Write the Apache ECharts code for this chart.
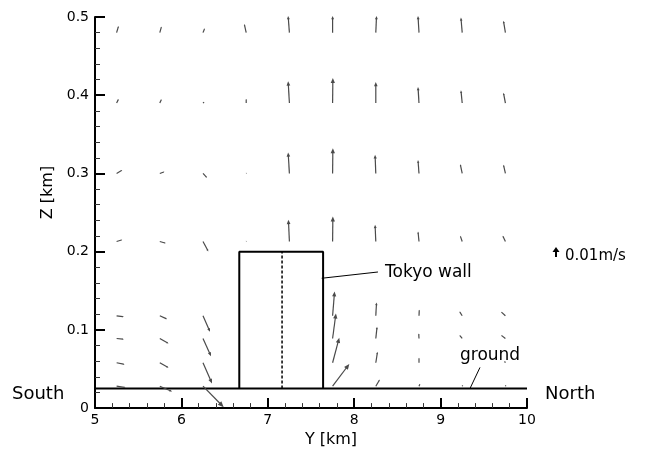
<!DOCTYPE html>
<html>
<head>
<meta charset="utf-8">
<script src="https://cdn.jsdelivr.net/npm/echarts@6/dist/echarts.min.js"></script>
<style>html,body{margin:0;padding:0;background:#fff}#c{width:646px;height:453px}</style>
</head>
<body>
<div id="c"></div>
<script>
// ---- data ----
const xTicks = [5, 6, 7, 8, 9, 10];           // Y [km]
const zTicks = [0, 0.1, 0.2, 0.3, 0.4, 0.5];  // Z [km]
// vector grid, upper part (all columns)
const colsY = [5.25, 5.75, 6.25, 6.75, 7.25, 7.75, 8.25, 8.75, 9.25, 9.75];
const upperRowsZ = [0.48, 0.39, 0.30, 0.213];
// horizontal (v) and vertical (w) velocity, mm/s
const uUpper = [
  [2.2, 1.9, 1.9, -2.2, -1.4, 0.0, 0.8, -1.1, -1.4, -2.2],
  [2.2, 1.9, 1.4, 0.0, -1.4, 0.3, 0.0, -1.1, -1.4, -2.2],
  [6.3, 5.2, 4.4, 0.5, -1.4, 0.3, -0.8, -1.1, -2.2, -2.2],
  [6.3, 6.7, 5.9, 0.3, -1.1, 0.3, -0.8, -1.1, -2.2, -3.0]
];
const wUpper = [
  [7.4, 6.7, 4.8, 9.7, 18.6, 18.6, 18.6, 18.6, 16.7, 13.3],
  [4.4, 4.1, 1.1, 4.5, 24.1, 27.8, 23.3, 17.8, 14.1, 11.4],
  [3.7, 1.9, -4.8, 0.5, 23.3, 28.1, 20.8, 14.8, 10.3, 9.7],
  [1.9, -1.9, -11.1, 0.3, 24.1, 27.8, 18.6, 11.1, 6.3, 6.3]
];
// lower part (columns over the wall are empty)
const lowerColsY = [5.25, 5.75, 6.25, 7.75, 8.25, 8.75, 9.25, 9.75];
const lowerRowsZ = [0.118, 0.089, 0.058, 0.028];
const uLower = [
  [8.1, 8.1, 7.8, 2.2, 0.8, 0.3, -3.0, -4.8],
  [8.1, 9.7, 8.9, 3.7, 1.4, -0.3, -3.0, -4.8],
  [8.9, 9.7, 10.0, 7.4, 1.9, 0.0, -0.6, -1.1],
  [10.0, 13.7, 23.0, 18.6, 4.4, 1.1, 0.6, 0.6]
];
const wLower = [
  [-1.1, -3.7, -17.8, 27.0, 14.8, 6.7, 4.8, 4.4],
  [-0.8, -5.6, -19.7, 27.8, 13.0, 5.6, 3.7, 3.7],
  [-1.9, -5.6, -23.0, 27.8, 12.2, 5.6, 1.1, 1.7],
  [-1.4, -5.9, -23.3, 24.8, 7.4, 2.6, 1.1, 1.1]
];
const refSpeed = 10; // mm/s  (0.01 m/s)
// structures
const groundZ = 0.025;
const wallY = [6.67, 7.64];
const wallTopZ = 0.2;
const wallMidY = 7.165;

// ---- build ----
const K = 0.9; // px per mm/s
const vecData = [];
upperRowsZ.forEach((z, i) => colsY.forEach((y, j) => vecData.push([y, z, uUpper[i][j], wUpper[i][j]])));
lowerRowsZ.forEach((z, i) => lowerColsY.forEach((y, j) => vecData.push([y, z, uLower[i][j], wLower[i][j]])));

function arrowShapes(x0, y0, dx, dy, color, lw, hlF, hwF) {
  const len = Math.hypot(dx, dy);
  if (len < 0.3) return [];
  const ex = x0 + dx, ey = y0 + dy;
  const ux = dx / len, uy = dy / len;
  const hl = hlF * len, hw = hwF * len;
  const bx = ex - ux * hl, by = ey - uy * hl;
  return [
    { type: 'line', shape: { x1: x0, y1: y0, x2: bx + ux * hl * 0.3, y2: by + uy * hl * 0.3 }, style: { stroke: color, lineWidth: lw } },
    { type: 'polygon', shape: { points: [[ex, ey], [bx - uy * hw, by + ux * hw], [bx + uy * hw, by - ux * hw]] }, style: { fill: color } }
  ];
}

const font = 'DejaVu Sans';
const chart = echarts.init(document.getElementById('c'), null, { renderer: 'canvas' });
const blackLine = (data, w, type) => ({
  type: 'line', data: data, showSymbol: false, symbol: 'none', silent: true, animation: false,
  lineStyle: { color: '#000', width: w, type: type || 'solid' }, z: 3
});

const legX = 556, legY = 257, legLen = refSpeed * K;
chart.setOption({
  animation: false,
  grid: { left: 95, right: 119, top: 17, bottom: 39 },
  xAxis: {
    type: 'value', min: xTicks[0], max: xTicks[xTicks.length - 1], interval: 1,
    name: 'Y [km]', nameLocation: 'middle', nameGap: 19,
    nameTextStyle: { fontFamily: font, fontSize: 16, color: '#000', padding: [0, 0, 0, 40] },
    axisLine: { show: true, onZero: false, lineStyle: { color: '#000', width: 2 } },
    axisTick: { show: true, inside: true, length: 10, lineStyle: { color: '#000', width: 2 } },
    minorTick: { show: true, splitNumber: 5, length: 5, lineStyle: { color: '#333', width: 1 } },
    axisLabel: { margin: 5, fontFamily: font, fontSize: 14, color: '#000' },
    splitLine: { show: false }
  },
  yAxis: {
    type: 'value', min: zTicks[0], max: zTicks[zTicks.length - 1], interval: 0.1,
    name: 'Z [km]', nameLocation: 'middle', nameGap: 29, nameRotate: 90,
    nameTextStyle: { fontFamily: font, fontSize: 16, color: '#000', padding: [0, 0, 0, 40] },
    axisLine: { show: true, onZero: false, lineStyle: { color: '#000', width: 2 } },
    axisTick: { show: true, inside: true, length: 10, lineStyle: { color: '#000', width: 2 } },
    minorTick: { show: true, splitNumber: 5, length: 5, lineStyle: { color: '#333', width: 1 } },
    axisLabel: { margin: 6, fontFamily: font, fontSize: 14, color: '#000' },
    splitLine: { show: false }
  },
  series: [
    {
      type: 'custom', data: vecData, clip: false, z: 4,
      renderItem: function (params, api) {
        const p = api.coord([api.value(0), api.value(1)]);
        const dx = api.value(2) * K, dy = -api.value(3) * K;
        return { type: 'group', children: arrowShapes(p[0], p[1], dx, dy, '#4a4a4a', 1.2, 0.2, 0.085) };
      }
    },
    blackLine([[xTicks[0], groundZ], [xTicks[xTicks.length - 1], groundZ]], 2),
    blackLine([[wallY[0], groundZ], [wallY[0], wallTopZ], [wallY[1], wallTopZ], [wallY[1], groundZ]], 2),
    blackLine([[wallMidY, groundZ], [wallMidY, wallTopZ]], 1.5, [3, 2]),
    blackLine([[7.624, 0.166], [8.275, 0.174]], 1),
    blackLine([[9.456, 0.052], [9.34, groundZ]], 1)
  ],
  graphic: [
    { type: 'text', left: 12, top: 385, style: { text: 'South', font: '18px "DejaVu Sans"', fill: '#000' } },
    { type: 'text', left: 545, top: 385, style: { text: 'North', font: '18px "DejaVu Sans"', fill: '#000' } },
    { type: 'text', left: 385, top: 264, style: { text: 'Tokyo wall', font: '17px "DejaVu Sans"', fill: '#000' } },
    { type: 'text', left: 460, top: 347, style: { text: 'ground', font: '17px "DejaVu Sans"', fill: '#000' } },
    { type: 'group', children: [
      { type: 'line', shape: { x1: legX, y1: legY, x2: legX, y2: legY - legLen + 3 }, style: { stroke: '#000', lineWidth: 2 } },
      { type: 'polygon', shape: { points: [[legX, legY - legLen - 1], [legX - 3.5, legY - legLen + 4], [legX + 3.5, legY - legLen + 4]] }, style: { fill: '#000' } }
    ]},
    { type: 'text', left: 565, top: 249, style: { text: '0.01m/s', font: '15px "DejaVu Sans"', fill: '#000' } }
  ]
});
</script>
</body>
</html>
